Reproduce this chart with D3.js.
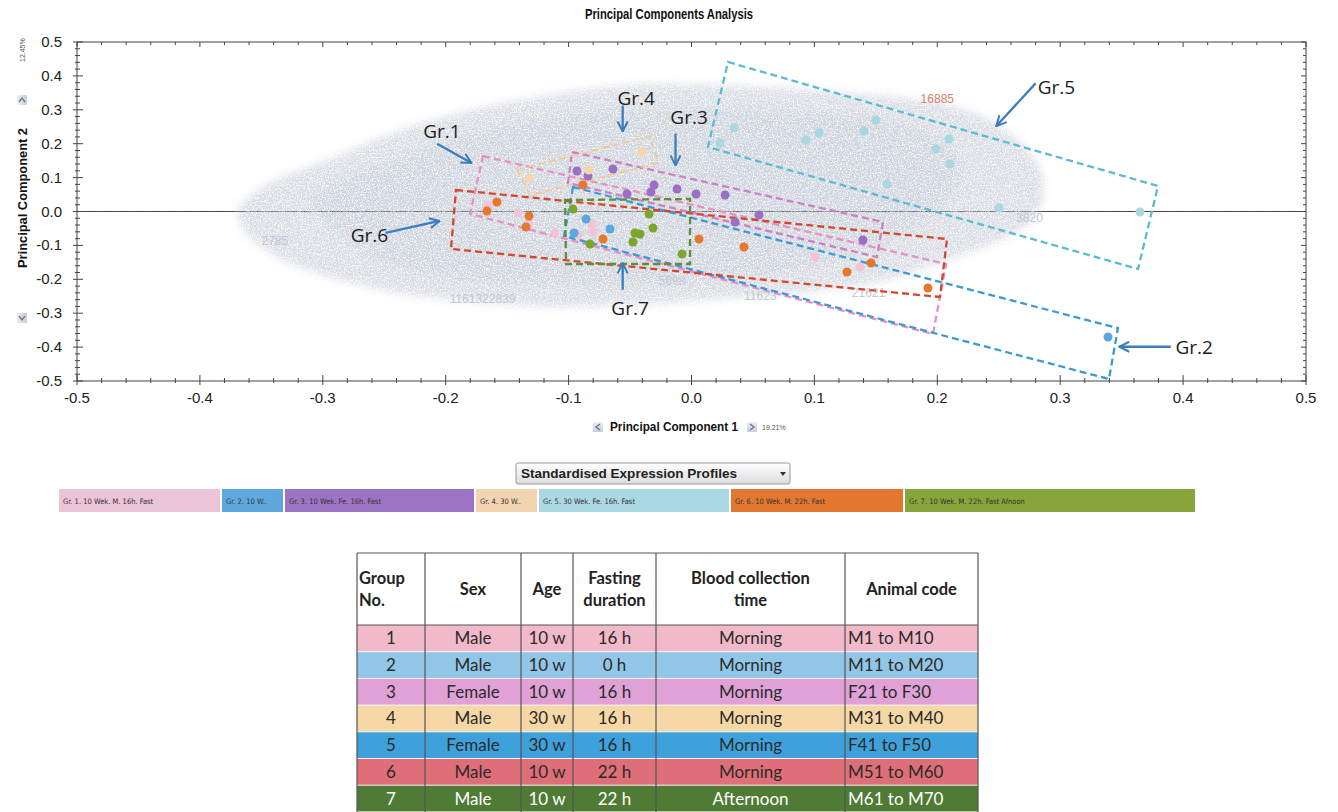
<!DOCTYPE html>
<html><head><meta charset="utf-8">
<script src="https://cdn.jsdelivr.net/npm/d3@7"></script>
<style>body{margin:0;background:#fff}svg{display:block}</style>
</head><body>
<svg id="c" width="1338" height="812"></svg>
<script>
// ---------------- DATA ----------------
const chartTitle = "Principal Components Analysis";
const xAxisTitle = "Principal Component 1";
const yAxisTitle = "Principal Component 2";
const xVarPct = "19.21%";
const yVarPct = "12.45%";
const tickValues = [-0.5,-0.4,-0.3,-0.2,-0.1,0.0,0.1,0.2,0.3,0.4,0.5];
const tickLabels = ["-0.5","-0.4","-0.3","-0.2","-0.1","0.0","0.1","0.2","0.3","0.4","0.5"];

const groupNames = ["Gr.1","Gr.2","Gr.3","Gr.4","Gr.5","Gr.6","Gr.7"];
const pointColors = ["#f3c3d8","#5aa8df","#9a6fc4","#f7d7a8","#a9d7e2","#e8772e","#7ba62c"];
const boxColors   = ["#e890c2","#3b99d6","#cf7fc6","#f4c98e","#5cbbd2","#d4472c","#5d8f3d"];

// sample scores (PC1, PC2) per group
const gr1 = [[-0.1656,0.0192],[-0.1412,-0.0044],[-0.1322,-0.0339],[-0.1111,-0.0634],[-0.0924,-0.0693],[-0.0810,-0.0369],[-0.0801,-0.0605],[0.1005,-0.1342],[0.1371,-0.1637]];
const gr2 = [[-0.0858,-0.0221],[-0.0663,-0.0516],[-0.0956,-0.0634],[0.3389,-0.3702]];
const gr3 = [[-0.0932,0.1195],[-0.0842,0.1047],[-0.0639,0.1254],[-0.0525,0.0516],[-0.0330,0.0575],[-0.0305,0.0782],[-0.0118,0.0664],[0.0037,0.0516],[0.0273,0.0487],[0.0354,-0.0310],[0.0549,-0.0103],[0.1395,-0.0841]];
const gr4 = [[-0.1322,0.0988],[-0.0403,0.1755],[-0.0834,0.1224]];
const gr5 = [[0.0346,0.2463],[0.0232,0.2021],[0.0932,0.2109],[0.1037,0.2316],[0.1404,0.2375],[0.1501,0.2699],[0.1591,0.0811],[0.1989,0.1844],[0.2095,0.2139],[0.2103,0.1401],[0.2502,0.0103],[0.3649,-0.0015]];
const gr6 = [[-0.1583,0.0280],[-0.1664,0.0015],[-0.1322,-0.0133],[-0.1347,-0.0457],[-0.0883,0.0782],[-0.0720,-0.0811],[0.0061,-0.0811],[0.0427,-0.1047],[0.1265,-0.1785],[0.1461,-0.1519],[0.1924,-0.2257]];
const gr7 = [[-0.0964,0.0074],[-0.0346,-0.0074],[-0.0313,-0.0487],[-0.0460,-0.0634],[-0.0419,-0.0664],[-0.0476,-0.0900],[-0.0826,-0.0959],[-0.0077,-0.1254]];
const groupPoints = [gr1,gr2,gr3,gr4,gr5,gr6,gr7];

// hand-drawn dashed group outlines (corners in PC units)
const box1 = [[-0.1696,0.1637],[0.2071,-0.1549],[0.1965,-0.3614],[-0.1802,-0.0074]];
const box2 = [[-0.0964,0.0723],[0.3470,-0.3437],[0.3397,-0.4941],[-0.1037,-0.0723]];
const box3 = [[-0.0972,0.1755],[0.1558,-0.0310],[0.1509,-0.1342],[-0.1005,0.0841]];
const box4 = [[-0.1420,0.1224],[-0.0338,0.2227],[-0.0273,0.1431],[-0.1314,0.0487]];
const box5 = [[0.0297,0.4410],[0.3796,0.0752],[0.3633,-0.1696],[0.0134,0.1903]];
const box6 = [[-0.1916,0.0634],[0.2079,-0.0811],[0.2022,-0.2522],[-0.1957,-0.1106]];
const box7 = [[-0.1029,0.0339],[-0.0012,0.0369],[-0.0012,-0.1549],[-0.1021,-0.1549]];
const groupBoxes = [box1,box2,box3,box4,box5,box6,box7];

// annotation arrows: label position, arrow start, arrow end (PC units)
const annLabelPos = [[-0.203,0.236],[0.409,-0.401],[-0.002,0.280],[-0.045,0.335],[0.297,0.366],[-0.262,-0.068],[-0.050,-0.285]];
const annFrom = [[-0.207,0.200],[0.390,-0.399],[-0.013,0.230],[-0.056,0.313],[0.280,0.378],[-0.249,-0.063],[-0.056,-0.231]];
const annTo   = [[-0.179,0.143],[0.348,-0.399],[-0.013,0.136],[-0.056,0.236],[0.248,0.252],[-0.205,-0.028],[-0.056,-0.153]];

// outline of the grey cloud of gene loadings (PC units)
const cloudOutline = [[-0.3700,-0.0015],[-0.3560,0.0560],[-0.3320,0.1040],[-0.2990,0.1480],[-0.2670,0.1980],[-0.2190,0.2620],[-0.1558,0.3180],[-0.0907,0.3580],[-0.0338,0.3760],[0.0313,0.3720],[0.0964,0.3600],[0.1534,0.3420],[0.2022,0.3200],[0.2388,0.2780],[0.2650,0.2130],[0.2840,0.1283],[0.2860,0.0339],[0.2720,-0.0460],[0.2400,-0.1030],[0.2000,-0.1520],[0.1534,-0.2080],[0.0883,-0.2400],[0.0232,-0.2580],[-0.0419,-0.2760],[-0.1070,-0.2820],[-0.1721,-0.2700],[-0.2372,-0.2420],[-0.2920,-0.1960],[-0.3320,-0.1450],[-0.3600,-0.0760]];
const cloudCore = [[-0.31,0.03],[-0.25,0.14],[-0.17,0.24],[-0.07,0.30],[0.04,0.30],[0.14,0.28],[0.20,0.22],[0.22,0.12],[0.20,0.0],[0.14,-0.12],[0.06,-0.19],[-0.05,-0.22],[-0.16,-0.21],[-0.25,-0.15]];
const geneLabels = ["1161322839","21621","3820","11623","5698","2785","16885"];
const geneLabelPos = [[-0.17,-0.27],[0.144,-0.252],[0.275,-0.031],[0.056,-0.261],[-0.016,-0.218],[-0.339,-0.099],[0.20,0.32]];
const geneLabelHighlight = [false,false,false,false,false,false,true];

// legend strip
const legendLabels = ["Gr. 1. 10 Wek. M. 16h. Fast","Gr. 2. 10 W..","Gr. 3. 10 Wek. Fe. 16h. Fast","Gr. 4. 30 W..","Gr. 5. 30 Wek. Fe. 16h. Fast","Gr. 6. 10 Wek. M. 22h. Fast","Gr. 7. 10 Wek. M. 22h. Fast Afnoon"];
const legendColors = ["#ebc4d7","#5fa8de","#9d74c4","#f2d3b2","#aad8e3","#e2772f","#87a53a"];
const dropdownLabel = "Standardised Expression Profiles";

// table
const tableHeader = [["Group","No."],["Sex"],["Age"],["Fasting","duration"],["Blood collection","time"],["Animal code"]];
const groupNo = ["1","2","3","4","5","6","7"];
const sexes = ["Male","Male","Female","Male","Female","Male","Male"];
const ages = ["10 w","10 w","10 w","30 w","30 w","10 w","10 w"];
const fasting = ["16 h","0 h","16 h","16 h","16 h","22 h","22 h"];
const collection = ["Morning","Morning","Morning","Morning","Morning","Morning","Afternoon"];
const animalCodes = ["M1 to M10","M11 to M20","F21 to F30","M31 to M40","F41 to F50","M51 to M60","M61 to M70"];
const rowColors = ["#f1b9ca","#92c6e7","#e0a2d6","#f6d8a6","#3fa1dc","#de6f78","#4f7b35"];

// ---------------- DRAW ----------------
const svg = d3.select("#c");
svg.append("rect").attr("width",1338).attr("height",812).attr("fill","#fff");
const x = d3.scaleLinear().domain([-0.5,0.5]).range([77,1306]);
const y = d3.scaleLinear().domain([-0.5,0.5]).range([381,42]);
const AX = "'Liberation Sans', Arial, sans-serif";

const defs = svg.append("defs");
defs.html(`
<filter id="tex" x="-5%" y="-10%" width="110%" height="120%">
  <feGaussianBlur in="SourceGraphic" stdDeviation="4" result="soft"/>
  <feTurbulence type="fractalNoise" baseFrequency="0.75" numOctaves="2" seed="5" result="n"/>
  <feColorMatrix in="n" type="matrix" values="0 0 0 0 0  0 0 0 0 0  0 0 0 0 0  2.8 0 0 0 -0.65" result="m"/>
  <feComposite in="soft" in2="m" operator="in"/>
</filter>
<marker id="ah" viewBox="0 0 12 12" refX="11" refY="6" markerWidth="12" markerHeight="12" markerUnits="userSpaceOnUse" orient="auto">
  <path d="M1,1 L11,6 L1,11" fill="none" stroke="#3b7dbd" stroke-width="2"/>
</marker>
<linearGradient id="dd" x1="0" y1="0" x2="0" y2="1">
  <stop offset="0" stop-color="#ffffff"/><stop offset="1" stop-color="#dcdcdc"/>
</linearGradient>
<linearGradient id="ic" x1="0" y1="0" x2="0" y2="1">
  <stop offset="0" stop-color="#e6e9f2"/><stop offset="1" stop-color="#b9c0d2"/>
</linearGradient>`);

// title
svg.append("text").attr("x",669).attr("y",19).attr("text-anchor","middle")
  .attr("font-family",AX).attr("font-weight","bold").attr("font-size",15)
  .attr("textLength",168).attr("lengthAdjust","spacingAndGlyphs").attr("fill","#111").text(chartTitle);

// zero line (under cloud)
svg.append("line").attr("x1",x(-0.5)).attr("x2",x(0.5)).attr("y1",y(0)).attr("y2",y(0))
  .attr("stroke","#444").attr("stroke-width",1);

// cloud
const cloudLine = d3.line().x(d=>x(d[0])).y(d=>y(d[1])).curve(d3.curveCardinalClosed.tension(0.3));
const cg = svg.append("g").attr("filter","url(#tex)").attr("opacity",0.92);
cg.append("path").attr("d",cloudLine(cloudOutline)).attr("fill","#d3d8e0");
cg.append("path").attr("d",cloudLine(cloudCore)).attr("fill","#c9cfd9");

// zero line showing faintly through the cloud
svg.append("line").attr("x1",x(-0.5)).attr("x2",x(0.5)).attr("y1",y(0)).attr("y2",y(0))
  .attr("stroke","#555").attr("stroke-width",1).attr("stroke-dasharray","10,6").attr("opacity",0.35);

// faint gene labels
svg.append("g").selectAll("text").data(geneLabels).join("text")
  .attr("x",(d,i)=>x(geneLabelPos[i][0])).attr("y",(d,i)=>y(geneLabelPos[i][1]))
  .attr("text-anchor","middle").attr("font-family",AX).attr("font-size",12)
  .attr("fill",(d,i)=>geneLabelHighlight[i]?"#d9826a":"#c3c9d3").text(d=>d);

// axes frame + ticks
const ax = svg.append("g").attr("stroke","#444").attr("stroke-width",1);
ax.append("rect").attr("x",x(-0.5)).attr("y",y(0.5)).attr("width",x(0.5)-x(-0.5)).attr("height",y(-0.5)-y(0.5)).attr("fill","none");
const minor = d3.range(-25,26).map(i=>i*0.02);
minor.forEach(v=>{
  const major = Math.abs(Math.round(v*10)-v*10)<1e-6;
  ax.append("line").attr("x1",x(v)).attr("x2",x(v)).attr("y1",y(-0.5)-(major?6:3)).attr("y2",y(-0.5)+(major?4:2));
  ax.append("line").attr("x1",x(v)).attr("x2",x(v)).attr("y1",y(0.5)).attr("y2",y(0.5)+(major?5:3));
  ax.append("line").attr("y1",y(v)).attr("y2",y(v)).attr("x1",x(-0.5)-(major?4:2)).attr("x2",x(-0.5)+(major?6:3));
  ax.append("line").attr("y1",y(v)).attr("y2",y(v)).attr("x1",x(0.5)).attr("x2",x(0.5)-(major?5:3));
});
svg.append("g").selectAll("text").data(tickValues).join("text")
  .attr("x",d=>x(d)).attr("y",403).attr("text-anchor","middle")
  .attr("font-family",AX).attr("font-size",15).attr("fill","#222").text((d,i)=>tickLabels[i]);
svg.append("g").selectAll("text").data(tickValues).join("text")
  .attr("x",62).attr("y",d=>y(d)+5).attr("text-anchor","end")
  .attr("font-family",AX).attr("font-size",15).attr("fill","#222").text((d,i)=>tickLabels[i]);

// axis titles
svg.append("text").attr("x",674).attr("y",431).attr("text-anchor","middle")
  .attr("font-family",AX).attr("font-weight","bold").attr("font-size",13)
  .attr("textLength",128).attr("lengthAdjust","spacingAndGlyphs").attr("fill","#111").text(xAxisTitle);
svg.append("text").attr("transform","translate(27,198) rotate(-90)").attr("text-anchor","middle")
  .attr("font-family",AX).attr("font-weight","bold").attr("font-size",13)
  .attr("textLength",140).attr("lengthAdjust","spacingAndGlyphs").attr("fill","#111").text(yAxisTitle);
function icon(cx,cy,dir,rot){
  const g=svg.append("g").attr("transform",`translate(${cx},${cy}) rotate(${rot})`);
  g.append("rect").attr("x",-5).attr("y",-5).attr("width",10).attr("height",10).attr("fill","url(#ic)").attr("opacity",0.8);
  g.append("path").attr("d",dir>0?"M-2,-3 L2,0 L-2,3":"M2,-3 L-2,0 L2,3").attr("fill","none").attr("stroke","#6a7390").attr("stroke-width",1.3);
}
icon(598,427,-1,0); icon(752,427,1,0);
svg.append("text").attr("x",762).attr("y",430).attr("font-family",AX).attr("font-size",7).attr("fill","#555").text(xVarPct);
icon(22,318,-1,-90); icon(22,100,1,-90);
svg.append("text").attr("transform","translate(25,62) rotate(-90)").attr("font-family",AX).attr("font-size",7).attr("fill","#555").text(yVarPct);

// group boxes
const poly = d3.line().x(d=>x(d[0])).y(d=>y(d[1]));
svg.append("g").selectAll("path").data(groupBoxes).join("path")
  .attr("d",d=>poly(d)+"Z").attr("fill","none")
  .attr("stroke",(d,i)=>boxColors[i]).attr("stroke-width",(d,i)=>i===3?1.6:2.3)
  .attr("stroke-dasharray","7,4");

// points
const pg = svg.append("g");
groupPoints.forEach((pts,gi)=>{
  pg.selectAll(null).data(pts).join("circle")
    .attr("cx",d=>x(d[0])).attr("cy",d=>y(d[1])).attr("r",4.5)
    .attr("fill",pointColors[gi]);
});

// annotation arrows + labels
svg.append("g").selectAll("line").data(annFrom).join("line")
  .attr("x1",d=>x(d[0])).attr("y1",d=>y(d[1]))
  .attr("x2",(d,i)=>x(annTo[i][0])).attr("y2",(d,i)=>y(annTo[i][1]))
  .attr("stroke","#3b7dbd").attr("stroke-width",2.3).attr("marker-end","url(#ah)");
svg.append("g").selectAll("text").data(groupNames).join("text")
  .attr("x",(d,i)=>x(annLabelPos[i][0])).attr("y",(d,i)=>y(annLabelPos[i][1])+7)
  .attr("text-anchor","middle").attr("font-family","'Open Sans', sans-serif").attr("font-size",19)
  .attr("fill","#1b1b1b").text(d=>d);

// dropdown
svg.append("rect").attr("x",516).attr("y",463).attr("width",274).attr("height",21)
  .attr("fill","url(#dd)").attr("stroke","#9a9a9a").attr("rx",2);
svg.append("text").attr("x",521).attr("y",478).attr("font-family",AX).attr("font-weight","bold")
  .attr("font-size",12).attr("fill","#222").attr("textLength",216).attr("lengthAdjust","spacingAndGlyphs").text(dropdownLabel);
svg.append("path").attr("d","M780,472 L786,472 L783,476 Z").attr("fill","#333");

// legend strip
const legEdges = [59,222,285,476,539,731,905,1197];
const lg = svg.append("g");
legendLabels.forEach((t,i)=>{
  lg.append("rect").attr("x",legEdges[i]).attr("y",489).attr("width",legEdges[i+1]-legEdges[i]-2).attr("height",23).attr("fill",legendColors[i]);
  lg.append("text").attr("x",legEdges[i]+4).attr("y",504).attr("font-family","'DejaVu Sans Condensed','DejaVu Sans',sans-serif")
    .attr("font-size",7.5).attr("fill","#333").text(t);
});

// table
const colX = [357,425,521,573,656,845,978];
const tTop = 553, headH = 72, rowH = 26.7;
const TF = "Lato, 'Open Sans', sans-serif";
const tg = svg.append("g");
tg.append("rect").attr("x",colX[0]).attr("y",tTop).attr("width",colX[6]-colX[0]).attr("height",headH).attr("fill","#fff");
rowColors.forEach((c,r)=>{
  tg.append("rect").attr("x",colX[0]).attr("y",tTop+headH+r*rowH).attr("width",colX[6]-colX[0]).attr("height",rowH).attr("fill",c);
});
for(let r=0;r<=7;r++){
  tg.append("line").attr("x1",colX[0]).attr("x2",colX[6]).attr("y1",tTop+headH+r*rowH).attr("y2",tTop+headH+r*rowH)
    .attr("stroke",r===0?"#555":"#f4f4f4").attr("stroke-width",r===0?1.2:1);
}
tg.append("line").attr("x1",colX[0]).attr("x2",colX[6]).attr("y1",tTop).attr("y2",tTop).attr("stroke","#555").attr("stroke-width",1.2);
colX.forEach(cx=>tg.append("line").attr("x1",cx).attr("x2",cx).attr("y1",tTop).attr("y2",tTop+headH+7*rowH).attr("stroke","#555").attr("stroke-width",1.2));
tableHeader.forEach((lines,c)=>{
  const left = c===0;
  const tx = left ? colX[0]+2 : (colX[c]+colX[c+1])/2;
  const cy = tTop+headH/2;
  lines.forEach((ln,k)=>{
    tg.append("text").attr("x",tx).attr("y",cy+6+(k-(lines.length-1)/2)*22)
      .attr("text-anchor",left?"start":"middle").attr("font-family",TF).attr("font-weight","bold")
      .attr("font-size",16.5).attr("fill","#222").text(ln);
  });
});
const cols = [groupNo,sexes,ages,fasting,collection,animalCodes];
cols.forEach((arr,c)=>{
  arr.forEach((v,r)=>{
    const left = c===5;
    tg.append("text").attr("x",left?colX[c]+3:(colX[c]+colX[c+1])/2)
      .attr("y",tTop+headH+r*rowH+rowH/2+6)
      .attr("text-anchor",left?"start":"middle").attr("font-family",TF).attr("font-size",17)
      .attr("fill",r===6?"#fff":"#2b2b2b").text(v);
  });
});
</script></body></html>
